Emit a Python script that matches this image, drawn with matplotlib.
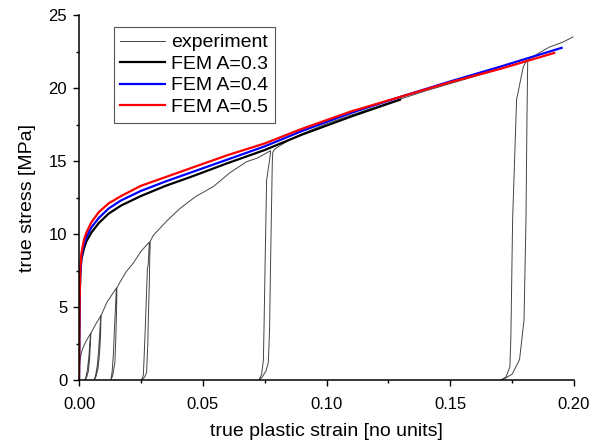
import matplotlib
matplotlib.use("Agg")
import matplotlib.pyplot as plt
from matplotlib.ticker import MultipleLocator, FormatStrFormatter

plt.rcParams['font.family'] = ['Liberation Sans', 'DejaVu Sans']

# experiment: envelope with unload/reload cycles (strain, stress)
exp_strain = [0, 0.0001, 0.0004, 0.0010, 0.0017, 0.0030, 0.0047,
              0.0044, 0.0040, 0.0034, 0.0028, 0.0024,
              0.0030, 0.0038, 0.0043, 0.0046, 0.0048,
              0.0065, 0.0088,
              0.0085, 0.0080, 0.0074, 0.0067, 0.0061,
              0.0068, 0.0077, 0.0083, 0.0087, 0.0089,
              0.0112, 0.0151,
              0.0148, 0.0143, 0.0139, 0.0134, 0.0129,
              0.0136, 0.0145, 0.0149, 0.0152, 0.0153,
              0.0162, 0.0190, 0.0219, 0.0250, 0.0284,
              0.0280, 0.0276, 0.0269, 0.0263, 0.0260, 0.0253,
              0.0265, 0.0273, 0.0278, 0.0280, 0.0284, 0.0286, 0.0288,
              0.0300, 0.0355, 0.0408, 0.0470, 0.0543, 0.0610, 0.0677, 0.0720, 0.0774,
              0.0772, 0.0758, 0.0752, 0.0748, 0.0745, 0.0738, 0.0727,
              0.0740, 0.0755, 0.0765, 0.0770, 0.0774, 0.0778, 0.0781, 0.0783,
              0.0790, 0.0812, 0.0850, 0.0900, 0.1000, 0.1100, 0.1200, 0.1300,
              0.1400, 0.1500, 0.1600, 0.1700, 0.1780, 0.1810,
              0.1795, 0.1768, 0.1752, 0.1745, 0.1741, 0.1725, 0.1705,
              0.1720, 0.1750, 0.1780, 0.1798, 0.1806, 0.1810, 0.1813,
              0.1830, 0.1859, 0.1900, 0.1956, 0.1996]
exp_stress = [0, 0.7, 1.37, 1.9, 2.25, 2.7, 3.2,
              2.6, 1.6, 0.7, 0.2, 0,
              0.15, 0.6, 1.5, 2.5, 3.2,
              3.75, 4.4,
              3.6, 2.2, 1.0, 0.3, 0,
              0.2, 0.8, 1.8, 3.0, 4.4,
              5.3, 6.3,
              5.2, 3.4, 1.8, 0.6, 0,
              0.3, 1.2, 3.0, 5.0, 6.3,
              6.6, 7.4, 8.0, 8.8, 9.45,
              8.0, 7.5, 4.1, 1.5, 0.34, 0,
              0.2, 0.5, 2.5, 4.1, 6.5, 8.5, 9.5,
              9.9, 10.9, 11.75, 12.55, 13.25, 14.2, 14.95, 15.2, 15.7,
              15.3, 13.7, 8.0, 4.0, 1.37, 0.4, 0,
              0.2, 0.6, 1.2, 3.5, 8.0, 12.0, 14.9, 15.6,
              15.8, 16.05, 16.45, 16.85, 17.55, 18.15, 18.7, 19.25,
              19.8, 20.3, 20.8, 21.3, 21.7, 21.9,
              21.45, 19.2, 11.0, 3.0, 0.9, 0.2, 0,
              0.1, 0.4, 1.4, 4.1, 11.0, 18.0, 21.9,
              22.1, 22.4, 22.8, 23.15, 23.5]

# FEM curves
fem03_strain = [0, 0.0001, 0.0002, 0.0005, 0.001, 0.002, 0.003, 0.005, 0.008, 0.012,
                0.017, 0.025, 0.035, 0.045, 0.060, 0.075, 0.090, 0.110, 0.1297]
fem03_stress = [0, 3.0, 5.0, 7.2, 8.3, 9.0, 9.5, 10.1, 10.75, 11.4,
                11.95, 12.6, 13.3, 13.9, 14.85, 15.75, 16.8, 18.05, 19.2]

fem04_strain = [0, 0.0001, 0.0002, 0.0005, 0.001, 0.002, 0.003, 0.005, 0.008, 0.012,
                0.017, 0.025, 0.035, 0.045, 0.060, 0.075, 0.090, 0.110, 0.130,
                0.150, 0.170, 0.195]
fem04_stress = [0, 3.0, 5.0, 7.4, 8.5, 9.3, 9.8, 10.45, 11.1, 11.75,
                12.3, 12.95, 13.6, 14.2, 15.1, 16.0, 17.05, 18.3, 19.4,
                20.45, 21.45, 22.75]

fem05_strain = [0, 0.0001, 0.0002, 0.0005, 0.001, 0.002, 0.003, 0.005, 0.008, 0.012,
                0.017, 0.025, 0.035, 0.045, 0.060, 0.075, 0.090, 0.110, 0.130,
                0.150, 0.170, 0.192]
fem05_stress = [0, 3.0, 5.0, 7.6, 8.7, 9.6, 10.1, 10.8, 11.5, 12.1,
                12.6, 13.3, 13.9, 14.5, 15.4, 16.2, 17.2, 18.4, 19.4,
                20.4, 21.3, 22.4]

fig = plt.figure(figsize=(6.02, 4.45), dpi=100)
ax = fig.add_axes([79 / 602, 65 / 445, 495 / 602, 365 / 445])

ax.plot(exp_strain, exp_stress, color='#444444', lw=0.7, label='experiment')
ax.plot(fem03_strain, fem03_stress, color='black', lw=1.6, label='FEM A=0.3')
ax.plot(fem04_strain, fem04_stress, color='#0000ff', lw=1.6, label='FEM A=0.4')
ax.plot(fem05_strain, fem05_stress, color='#ff0000', lw=1.6, label='FEM A=0.5')

ax.set_xlim(0, 0.2)
ax.set_ylim(0, 25)
ax.spines['top'].set_visible(False)
ax.spines['right'].set_visible(False)
for s in ['left', 'bottom']:
    ax.spines[s].set_linewidth(1.1)

ax.xaxis.set_major_locator(MultipleLocator(0.05))
ax.xaxis.set_minor_locator(MultipleLocator(0.025))
ax.xaxis.set_major_formatter(FormatStrFormatter('%.2f'))
ax.yaxis.set_major_locator(MultipleLocator(5))
ax.yaxis.set_minor_locator(MultipleLocator(2.5))
ax.tick_params(which='major', direction='out', length=4.5, width=1.0, labelsize=12)
ax.tick_params(axis='x', which='major', pad=8)
ax.tick_params(axis='y', which='major', pad=4)
ax.tick_params(which='minor', direction='out', length=2.5, width=1.0)

ax.set_xlabel('true plastic strain [no units]', fontsize=14, labelpad=8)
ax.set_ylabel('true stress [MPa]', fontsize=14, labelpad=9)

leg = ax.legend(loc='upper left', bbox_to_anchor=(0.07, 0.967), borderaxespad=0,
                fontsize=14, handlelength=2.3, handletextpad=0.3,
                labelspacing=0.2, borderpad=0.35, fancybox=False, framealpha=1,
                edgecolor='#555555')
leg.get_frame().set_linewidth(0.8)

fig.savefig('out.png', dpi=100)
